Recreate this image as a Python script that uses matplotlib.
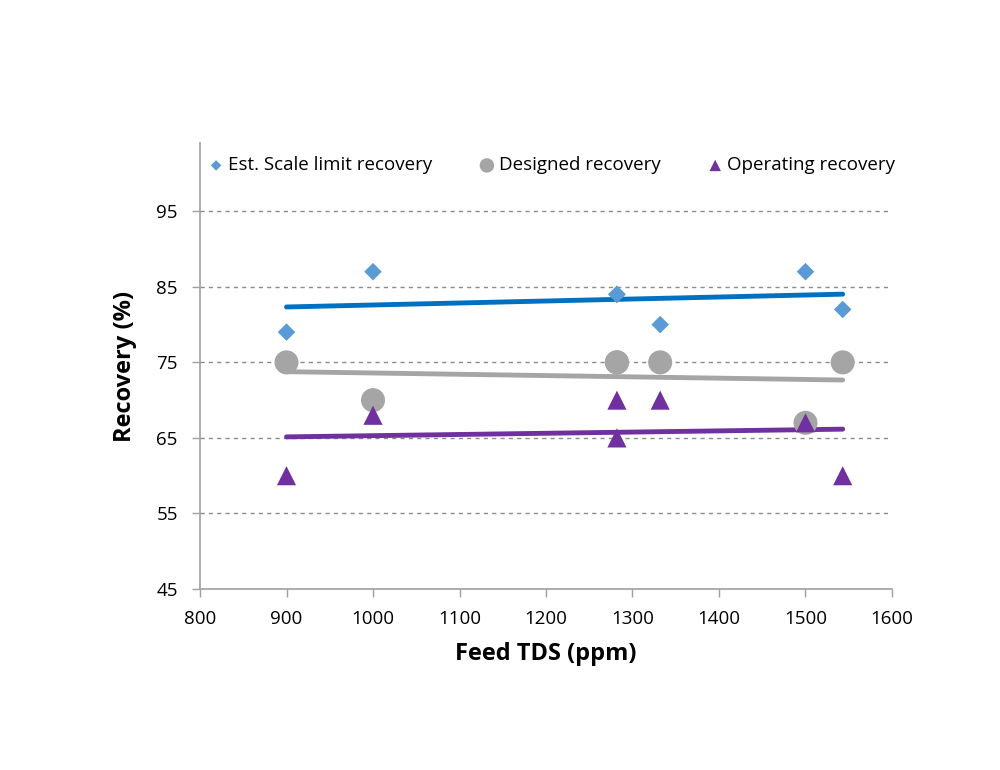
import matplotlib.pyplot as plt
import numpy as np

plt.rcParams['font.family'] = ['Open Sans', 'DejaVu Sans']

# data (feed TDS in ppm, recovery in %)
tds = [900, 1000, 1282, 1282, 1332, 1500, 1543]
scale_limit = [79, 87, 84, 84, 80, 87, 82]
designed = [75, 70, 75, 75, 75, 67, 75]
operating = [60, 68, 70, 65, 70, 67, 60]

series = [
    ('Est. Scale limit recovery', scale_limit, 'D', 80, '#5B9BD5', '#0070C0'),
    ('Designed recovery', designed, 'o', 300, '#A5A5A5', '#A5A5A5'),
    ('Operating recovery', operating, '^', 190, '#7030A0', '#7030A0'),
]

fig = plt.figure(figsize=(10, 7.7), dpi=100)
ax = fig.add_axes([0.2, 0.235, 0.692, 0.579])

x = np.array(tds, dtype=float)
for label, vals, mk, size, col, lcol in series:
    ax.scatter(tds, vals, marker=mk, s=size, color=col, label=label, zorder=3,
               edgecolors='none')
    # linear trendline like Excel
    k, b = np.polyfit(x, vals, 1)
    xs = np.array([x.min(), x.max()])
    ax.plot(xs, k * xs + b, color=lcol, lw=3.5, solid_capstyle='round', zorder=2)

ax.set_xlim(800, 1600)
ax.set_ylim(45, 104)
ax.set_xticks(np.arange(800, 1601, 100))
ax.set_yticks(np.arange(45, 96, 10))
for y in range(55, 96, 10):
    ax.axhline(y, color='#8C8C8C', lw=1, ls=(0, (3, 3)), zorder=1)

for s in ['top', 'right']:
    ax.spines[s].set_visible(False)
for s in ['left', 'bottom']:
    ax.spines[s].set_color('#A0A0A0')
    ax.spines[s].set_linewidth(1.2)
ax.tick_params(axis='both', colors='#A0A0A0', length=6, width=1, labelsize=13.5,
               labelcolor='black')
ax.tick_params(axis='x', pad=9)
ax.tick_params(axis='y', pad=10)

ax.set_xlabel('Feed TDS (ppm)', fontsize=17, fontweight='bold', labelpad=10)
ax.set_ylabel('Recovery (%)', fontsize=17, fontweight='bold', labelpad=14)

ax.legend(loc='upper center', bbox_to_anchor=(0.51, 1.0), ncol=3, frameon=False,
          fontsize=13.5, handlelength=0.6, handletextpad=0.35, columnspacing=2.6,
          markerscale=0.6, borderaxespad=0.3)

fig.savefig('out.png', dpi=100)
